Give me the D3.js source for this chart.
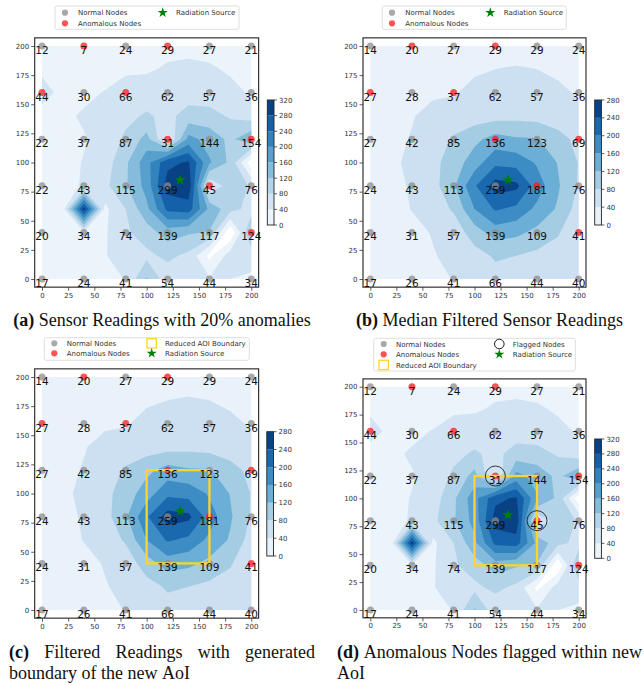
<!DOCTYPE html>
<html>
<head>
<meta charset="utf-8">
<script src="https://cdn.jsdelivr.net/npm/d3@7"></script>
<style>
  body { margin: 0; background: #fff; }
</style>
</head>
<body>
<svg id="fig" width="644" height="685"></svg>
<script>
// sensor node grid (6 x 6), rows from top (y=200) to bottom (y=0)
const nodeX = [0, 40, 80, 120, 160, 200];
const nodeY = [200, 160, 120, 80, 40, 0];

const rawReadings = [
  [12, 7, 24, 29, 27, 21],
  [44, 30, 66, 62, 57, 36],
  [22, 37, 87, 31, 144, 154],
  [22, 43, 115, 299, 45, 76],
  [20, 34, 74, 139, 117, 124],
  [17, 24, 41, 54, 44, 34]
];

const filteredReadings = [
  [14, 20, 27, 29, 29, 24],
  [27, 28, 37, 62, 57, 36],
  [27, 42, 85, 136, 123, 69],
  [24, 43, 113, 259, 181, 76],
  [24, 31, 57, 139, 109, 41],
  [17, 26, 41, 66, 44, 40]
];

const anomalousNodes = [[40, 200], [120, 200], [0, 160], [80, 160], [120, 120], [200, 120], [160, 80], [200, 40]];
const flaggedNodes = [[120, 120], [160, 80]];
const sourcePos = [132, 85];
const aoiBox = [100, 40, 160, 120]; // x0, y0, x1, y1

// interpolated field used for the filled contours, 20 unit spacing, rows y=200 .. 0
const gridStep = 20;
const fieldRaw = [
  [12, 10, 7, 15, 24, 27, 29, 28, 27, 24, 21],
  [38, 22, 18, 22, 30, 35, 45, 50, 45, 35, 28],
  [44, 37, 30, 42, 66, 60, 62, 62, 57, 50, 36],
  [36, 32, 45, 55, 70, 85, 70, 95, 95, 75, 60],
  [22, 28, 37, 55, 87, 135, 31, 175, 144, 110, 154],
  [22, 28, 42, 60, 112, 185, 270, 285, 165, 110, -25],
  [22, 30, 43, 70, 115, 175, 299, 310, 45, 100, 76],
  [20, 18, 300, 30, 80, 150, 250, 260, 150, 95, 65],
  [20, 25, 34, 35, 74, 100, 139, 125, 117, -35, 124],
  [18, 22, 30, 38, 55, 70, 90, 70, -10, 60, 55],
  [17, 20, 24, 32, 41, 125, 54, 45, 44, 40, 34]
];
const fieldFiltered = [
  [14, 17, 20, 24, 27, 28, 29, 30, 29, 27, 24],
  [20, 22, 24, 27, 30, 35, 40, 42, 40, 33, 28],
  [27, 27, 28, 35, 37, 50, 62, 62, 57, 48, 36],
  [27, 27, 38, 50, 58, 60, 65, 68, 65, 58, 50],
  [27, 32, 42, 60, 85, 110, 136, 125, 123, 95, 69],
  [26, 33, 48, 68, 100, 140, 190, 185, 155, 118, 78],
  [24, 32, 43, 65, 113, 195, 259, 250, 181, 125, 76],
  [24, 30, 41, 58, 85, 160, 205, 190, 150, 115, 62],
  [24, 28, 31, 42, 57, 100, 139, 130, 109, 85, 41],
  [20, 24, 28, 38, 48, 65, 85, 80, 70, 60, 45],
  [17, 22, 26, 33, 41, 55, 66, 58, 44, 42, 40]
];

const levelsRaw = [0, 40, 80, 120, 160, 200, 240, 280, 320];
const levelsFiltered = [0, 40, 80, 120, 160, 200, 240, 280];
const axisTicks = [0, 25, 50, 75, 100, 125, 150, 175, 200];

const legendLabels = {
  normal: "Normal Nodes",
  anom: "Anomalous Nodes",
  source: "Radiation Source",
  aoi: "Reduced AOI Boundary",
  flag: "Flagged Nodes"
};

const svg = d3.select("#fig");
const sans = "DejaVu Sans, sans-serif";
const serif = "Liberation Serif, Times New Roman, serif";

// matplotlib Blues
const blues = d3.piecewise(d3.interpolateRgb, ["#f7fbff", "#deebf7", "#c6dbef", "#9ecae1", "#6baed6", "#4292c6", "#2171b5", "#08519c", "#08306b"]);

const panels = [
  {
    id: "a", field: fieldRaw, readings: rawReadings, levels: levelsRaw,
    xr: [42, 251.3], yr: [279, 46],
    cbar: {x: 267.3, w: 6.7, top: 100, bottom: 225},
    legend: {box: [55, 6, 184, 23.3], mx: [65, 162.7], tx: [78, 176], ry: [12.7, 23.3],
      items: [["normal", 0, 0], ["anom", 0, 1], ["source", 1, 0]]},
    caption: {x0: 9, x1: 315, lines: [["(a)", "Sensor Readings with 20% anomalies"]], y: [326], mode: ["center"]}
  },
  {
    id: "b", field: fieldFiltered, readings: filteredReadings, levels: levelsFiltered,
    xr: [370.3, 578.7], yr: [279, 46],
    cbar: {x: 594.7, w: 6.7, top: 100, bottom: 225},
    legend: {box: [382.3, 6, 184, 23.3], mx: [392, 490.3], tx: [405.3, 503.7], ry: [12.7, 23.3],
      items: [["normal", 0, 0], ["anom", 0, 1], ["source", 1, 0]]},
    caption: {x0: 337, x1: 642, lines: [["(b)", "Median Filtered Sensor Readings"]], y: [326], mode: ["center"]}
  },
  {
    id: "c", field: fieldFiltered, readings: filteredReadings, levels: levelsFiltered,
    xr: [42, 251.3], yr: [610, 377], aoi: true,
    cbar: {x: 266.8, w: 6.7, top: 431.7, bottom: 556},
    legend: {box: [44.3, 337.7, 205, 22.6], mx: [54.3, 151.7], tx: [66.7, 165], ry: [343.3, 353.3],
      items: [["normal", 0, 0], ["anom", 0, 1], ["aoi", 1, 0], ["source", 1, 1]]},
    caption: {x0: 9, x1: 315, lines: [["(c)", "Filtered Readings with generated"], [null, "boundary of the new AoI"]], y: [658, 678.5], mode: ["justify", "left"]}
  },
  {
    id: "d", field: fieldRaw, readings: rawReadings, levels: levelsRaw,
    xr: [370.3, 578.7], yr: [610, 386.7], aoi: true, flagged: true,
    cbar: {x: 594.7, w: 6.7, top: 439, bottom: 558.3},
    legend: {box: [373.7, 338.3, 201.6, 32.7], mx: [383.7, 499.3], tx: [396, 512.7], ry: [344, 354.3, 365],
      items: [["normal", 0, 0], ["anom", 0, 1], ["aoi", 0, 2], ["flag", 1, 0], ["source", 1, 1]]},
    caption: {x0: 337, x1: 642, lines: [["(d)", "Anomalous Nodes flagged within new"], [null, "AoI"]], y: [658, 678.5], mode: ["justify", "left"]}
  }
];

const isAnom = (x, y) => anomalousNodes.some(d => d[0] === x && d[1] === y);

function drawMarker(g, kind, cx, cy, legend) {
  if (kind === "normal" || kind === "anom") {
    g.append("circle").attr("cx", cx).attr("cy", cy).attr("r", legend ? 3.1 : 3.5)
      .attr("fill", kind === "normal" ? "#8c8c8c" : "#ff1a1a").attr("fill-opacity", 0.75);
  } else if (kind === "source") {
    g.append("path").attr("d", d3.symbol(d3.symbolStar, legend ? 32 : 38)())
      .attr("transform", `translate(${cx},${cy})`).attr("fill", "#008000");
  } else if (kind === "aoi") {
    g.append("rect").attr("x", cx - 4.7).attr("y", cy - 4.7).attr("width", 9.4).attr("height", 9.4)
      .attr("fill", "none").attr("stroke", "#ffd42a").attr("stroke-width", 1.3);
  } else if (kind === "flag") {
    g.append("circle").attr("cx", cx).attr("cy", cy).attr("r", 4.8)
      .attr("fill", "none").attr("stroke", "#000").attr("stroke-width", 0.9);
  }
}

function drawPanel(p) {
  const g = svg.append("g");
  const x = d3.scaleLinear([0, 200], p.xr);
  const y = d3.scaleLinear([0, 200], p.yr);

  // clip for filled contours (data extent)
  const clipId = "clip-" + p.id;
  svg.append("clipPath").attr("id", clipId)
    .append("rect")
    .attr("x", x(0)).attr("y", y(200))
    .attr("width", x(200) - x(0)).attr("height", y(0) - y(200));

  // filled contours
  const nx = p.field[0].length, ny = p.field.length;
  const flat = p.field.flat();
  const proj = d3.geoTransform({
    point(gx, gy) {
      this.stream.point(x((gx - 0.5) * gridStep), y(200 - (gy - 0.5) * gridStep));
    }
  });
  const path = d3.geoPath(proj);
  const nBands = p.levels.length - 1;
  const band = i => blues((i + 0.5) / nBands);
  const cg = g.append("g").attr("clip-path", `url(#${clipId})`);
  p.levels.slice(0, -1).forEach((lev, i) => {
    const c = d3.contours().size([nx, ny]).thresholds([lev])(flat)[0];
    cg.append("path").attr("d", path(c)).attr("fill", band(i));
  });

  // axes
  const xa = g.append("g").attr("transform", `translate(0,${y(-7)})`)
    .call(d3.axisBottom(x).tickValues(axisTicks).tickSize(3.5).tickPadding(2));
  const ya = g.append("g").attr("transform", `translate(${x(-7)},0)`)
    .call(d3.axisLeft(y).tickValues(axisTicks).tickSize(3.5).tickPadding(2));
  [xa, ya].forEach(a => {
    a.select(".domain").remove();
    a.selectAll("line").attr("stroke", "#333").attr("stroke-width", 0.8);
    a.selectAll("text").attr("font-family", sans).attr("font-size", 7).attr("fill", "#333");
  });

  // frame
  g.append("rect")
    .attr("x", x(-7)).attr("y", y(207))
    .attr("width", x(207) - x(-7)).attr("height", y(-7) - y(207))
    .attr("fill", "none").attr("stroke", "#333").attr("stroke-width", 1.2);

  // nodes
  nodeY.forEach((ny_, r) => nodeX.forEach((nx_, c) => {
    drawMarker(g, isAnom(nx_, ny_) ? "anom" : "normal", x(nx_), y(ny_), false);
  }));

  // AoI boundary
  if (p.aoi) {
    g.append("rect")
      .attr("x", x(aoiBox[0])).attr("y", y(aoiBox[3]))
      .attr("width", x(aoiBox[2]) - x(aoiBox[0])).attr("height", y(aoiBox[1]) - y(aoiBox[3]))
      .attr("fill", "none").attr("stroke", "#ffd42a").attr("stroke-width", 2.3);
  }

  // readings
  nodeY.forEach((ny_, r) => nodeX.forEach((nx_, c) => {
    g.append("text").attr("x", x(nx_)).attr("y", y(ny_) + 8)
      .attr("text-anchor", "middle").attr("font-family", sans).attr("font-size", 10.5)
      .attr("fill", "#111").text(p.readings[r][c]);
  }));

  // flagged
  if (p.flagged) {
    flaggedNodes.forEach(d => {
      g.append("circle").attr("cx", x(d[0])).attr("cy", y(d[1])).attr("r", 10)
        .attr("fill", "none").attr("stroke", "#222").attr("stroke-width", 0.9);
    });
  }

  // source
  drawMarker(g, "source", x(sourcePos[0]), y(sourcePos[1]), false);

  // colorbar
  const cb = p.cbar;
  const cs = d3.scaleLinear([0, p.levels[p.levels.length - 1]], [cb.bottom, cb.top]);
  p.levels.slice(0, -1).forEach((lev, i) => {
    g.append("rect").attr("x", cb.x).attr("y", cs(p.levels[i + 1]))
      .attr("width", cb.w).attr("height", cs(lev) - cs(p.levels[i + 1]))
      .attr("fill", band(i));
  });
  g.append("rect").attr("x", cb.x).attr("y", cb.top).attr("width", cb.w).attr("height", cb.bottom - cb.top)
    .attr("fill", "none").attr("stroke", "#222").attr("stroke-width", 0.9);
  p.levels.forEach(lev => {
    g.append("line").attr("x1", cb.x + cb.w).attr("x2", cb.x + cb.w + 3)
      .attr("y1", cs(lev)).attr("y2", cs(lev)).attr("stroke", "#333").attr("stroke-width", 0.8);
    g.append("text").attr("x", cb.x + cb.w + 5).attr("y", cs(lev) + 2.5)
      .attr("font-family", sans).attr("font-size", 7).attr("fill", "#333").text(lev);
  });

  // legend
  const L = p.legend;
  g.append("rect").attr("x", L.box[0]).attr("y", L.box[1]).attr("width", L.box[2]).attr("height", L.box[3])
    .attr("rx", 2).attr("fill", "#fff").attr("stroke", "#d6d6d6").attr("stroke-width", 0.8);
  L.items.forEach(([kind, col, row]) => {
    drawMarker(g, kind, L.mx[col], L.ry[row], true);
    g.append("text").attr("x", L.tx[col]).attr("y", L.ry[row] + 2.5)
      .attr("font-family", sans).attr("font-size", 7).attr("fill", "#333").text(legendLabels[kind]);
  });

  // caption
  const C = p.caption;
  C.lines.forEach((ln, li) => {
    const words = [];
    if (ln[0]) words.push({t: ln[0], bold: true});
    ln[1].split(" ").forEach(w => words.push({t: w, bold: false}));
    const nodes = words.map(w => svg.append("text").attr("y", C.y[li])
      .attr("font-family", serif).attr("font-size", 18)
      .attr("font-weight", w.bold ? "bold" : null).attr("fill", "#111").text(w.t));
    const widths = nodes.map(n => n.node().getComputedTextLength());
    const sum = d3.sum(widths);
    let gap = 18 * 0.25, start = C.x0;
    if (C.mode[li] === "justify") gap = (C.x1 - C.x0 - sum) / (words.length - 1);
    else if (C.mode[li] === "center") start = (C.x0 + C.x1) / 2 - (sum + gap * (words.length - 1)) / 2;
    let cx = start;
    nodes.forEach((n, i) => { n.attr("x", cx); cx += widths[i] + gap; });
  });
}

panels.forEach(drawPanel);
</script>
</body>
</html>
